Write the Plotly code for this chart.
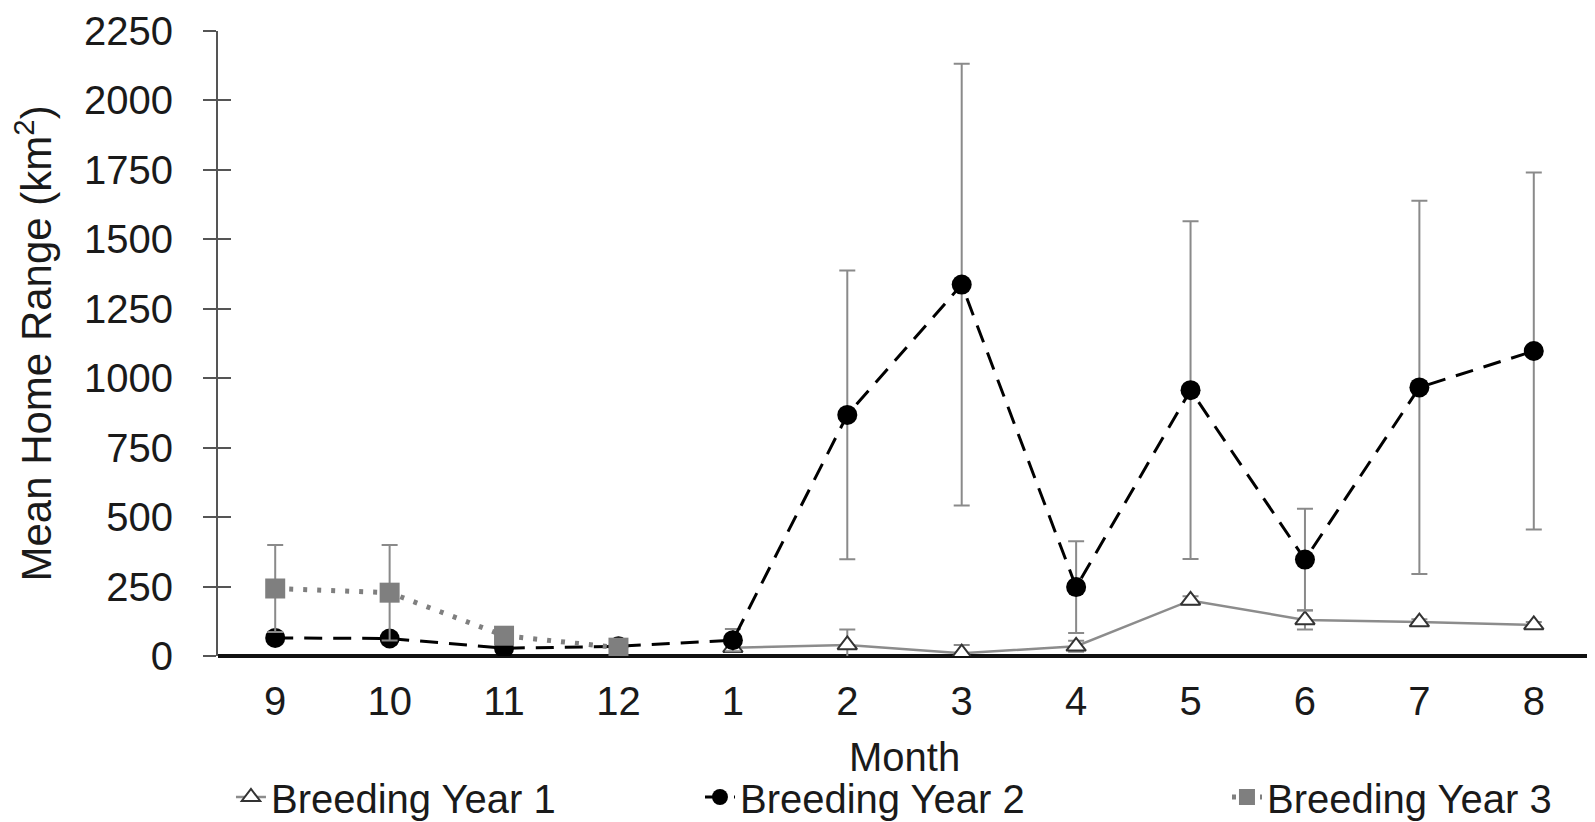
import plotly.graph_objects as go

months = ["9", "10", "11", "12", "1", "2", "3", "4", "5", "6", "7", "8"]

# Breeding Year 1 (starts at month 1)
y1_months = ["1", "2", "3", "4", "5", "6", "7", "8"]
y1_mean = [30, 40, 10, 35, 200, 130, 122, 112]
y1_err = [15, 55, 30, 20, 15, 35, 10, 10]

# Breeding Year 2
y2_mean = [65, 63, 28, 35, 57, 868, 1337, 248, 957, 347, 967, 1098]
y2_err = [20, 20, 10, 10, 40, 520, 795, 165, 608, 183, 672, 643]

# Breeding Year 3 (months 9-12)
y3_months = ["9", "10", "11", "12"]
y3_mean = [243, 228, 73, 30]
y3_err = [157, 172, 20, 5]

x_title = "Month"
y_title = "Mean Home Range (km<sup>2</sup>)"

FONT = "Arial, Liberation Sans, sans-serif"
ERRC = "#8a8a8a"

fig = go.Figure()

fig.add_trace(go.Scatter(
    x=y1_months, y=y1_mean, name="Breeding Year 1", mode="lines+markers",
    line=dict(color="#8c8c8c", width=2.5),
    marker=dict(symbol="triangle-up", size=17, color="white",
                line=dict(color="#333333", width=2)),
    error_y=dict(type="data", array=y1_err, visible=True, color=ERRC,
                 thickness=2, width=8),
    legend="legend",
))

fig.add_trace(go.Scatter(
    x=months, y=y2_mean, name="Breeding Year 2", mode="lines+markers",
    line=dict(color="black", width=3, dash="18px,11px"),
    marker=dict(symbol="circle", size=20, color="black"),
    error_y=dict(type="data", array=y2_err, visible=True, color=ERRC,
                 thickness=2, width=8),
    legend="legend",
))

fig.add_trace(go.Scatter(
    x=y3_months, y=y3_mean, name="Breeding Year 3", mode="lines+markers",
    line=dict(color="#7f7f7f", width=5, dash="4px,10px"),
    marker=dict(symbol="square", size=20, color="#7f7f7f"),
    error_y=dict(type="data", array=y3_err, visible=True, color=ERRC,
                 thickness=2, width=8),
    legend="legend2",
))

# invisible trace for the inner half of crossing y ticks
fig.add_trace(go.Scatter(x=[months[0]], y=[None], yaxis="y2",
                         showlegend=False, hoverinfo="skip", mode="markers"))

yticks = [0, 250, 500, 750, 1000, 1250, 1500, 1750, 2000, 2250]

legend_common = dict(
    orientation="h", xanchor="left", yanchor="middle",
    xref="container", yref="container",
    font=dict(size=40, color="#1a1a1a"),
    bgcolor="rgba(0,0,0,0)", itemwidth=30,
)

# the page body has an 8px default margin, so the figure is sized to fit
fig.update_layout(
    width=1587, height=814,
    margin=dict(l=210, r=4, t=23, b=166, autoexpand=False),
    paper_bgcolor="white", plot_bgcolor="white",
    font=dict(family=FONT, size=40, color="#1a1a1a"),
    xaxis=dict(
        type="category", categoryorder="array", categoryarray=months,
        range=[-0.5, 11.5], automargin=False,
        showline=False, showgrid=False, zeroline=False, ticks="",
        tickfont=dict(size=40, color="#1a1a1a"),
        ticklabelstandoff=18,
    ),
    yaxis=dict(
        range=[0, 2250], tickvals=yticks, automargin=False,
        showline=True, linecolor="#555555", linewidth=2,
        showgrid=False, zeroline=True, zerolinecolor="#111111", zerolinewidth=4,
        ticks="outside", ticklen=13, tickwidth=2, tickcolor="#555555",
        ticklabelstandoff=22,
        tickfont=dict(size=40, color="#1a1a1a"),
    ),
    yaxis2=dict(
        overlaying="y", side="left", range=[0, 2250], tickvals=yticks,
        automargin=False,
        showline=False, showgrid=False, zeroline=False,
        ticks="inside", ticklen=13, tickwidth=2, tickcolor="#555555",
        showticklabels=False,
    ),
    legend=dict(legend_common, x=0.1405, y=0.0307,
                entrywidth=424, entrywidthmode="pixels"),
    legend2=dict(legend_common, x=0.7681, y=0.0307),
    showlegend=True,
    annotations=[
        dict(text=x_title, xref="paper", yref="paper", x=0.5, y=-0.1616,
             xanchor="center", yanchor="middle", showarrow=False,
             font=dict(size=40, color="#1a1a1a")),
        dict(text=y_title, xref="paper", yref="paper", x=-0.1347, y=0.5,
             xanchor="center", yanchor="middle", showarrow=False, textangle=-90,
             font=dict(size=42, color="#1a1a1a")),
    ],
)

fig.write_html("out.html")
